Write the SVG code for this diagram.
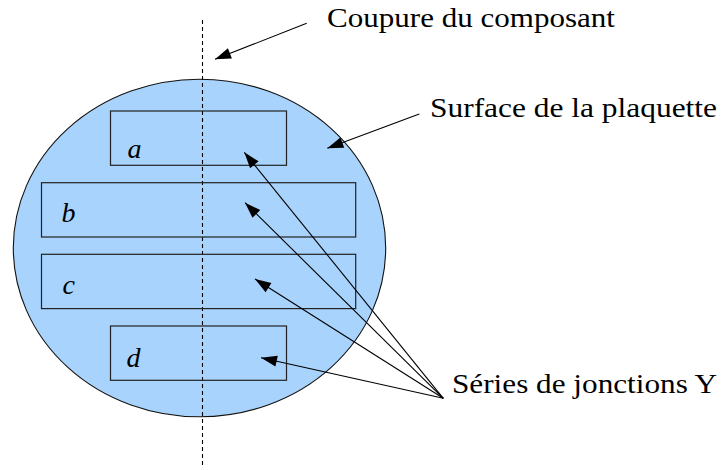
<svg xmlns="http://www.w3.org/2000/svg" width="723" height="470" viewBox="0 0 723 470">
<style>
.lbl{font-family:"Liberation Serif","DejaVu Serif",serif;font-size:27px;fill:#000}
.var{font-family:"Liberation Serif","DejaVu Serif",serif;font-style:italic;font-size:28px;fill:#000}
.box{fill:none;stroke:#222;stroke-width:1.2}
.con{stroke:#000;stroke-width:1.1;fill:none;marker-end:url(#ah)}
</style>
<defs>
<marker id="ah" markerUnits="userSpaceOnUse" viewBox="-17 -7 18 14" refX="0" refY="0" markerWidth="18" markerHeight="14" orient="auto">
<path d="M0,0 L-16,-5.5 L-16,5.5 z" fill="#000"/>
</marker>
</defs>
<rect width="723" height="470" fill="#fff"/>
<g id="plaquette">
<ellipse cx="199.5" cy="248" rx="186.2" ry="168.8" fill="#a7d3fd" stroke="#111" stroke-width="1.1"/>
</g>
<g id="coupe">
<line x1="202.5" y1="20" x2="202.5" y2="467" stroke="#000" stroke-width="1.1" stroke-dasharray="4,3"/>
</g>
<g id="node-a">
<rect class="box" x="110.5" y="111" width="176" height="54.3"/>
<text class="var" x="127.5" y="157.5">a</text>
</g>
<g id="node-b">
<rect class="box" x="41.5" y="182.7" width="314.2" height="54.3"/>
<text class="var" x="61.5" y="221.7">b</text>
</g>
<g id="node-c">
<rect class="box" x="41.5" y="254.3" width="314.2" height="54.3"/>
<text class="var" x="62.5" y="294.3">c</text>
</g>
<g id="node-d">
<rect class="box" x="110.5" y="326" width="176" height="54.3"/>
<text class="var" x="126.5" y="366.5">d</text>
</g>
<g id="labels">
<text class="lbl" x="327" y="27" textLength="288" lengthAdjust="spacingAndGlyphs">Coupure du composant</text>
<text class="lbl" x="430" y="116.5" textLength="287" lengthAdjust="spacingAndGlyphs">Surface de la plaquette</text>
<text class="lbl" x="452" y="393" textLength="265" lengthAdjust="spacingAndGlyphs">Séries de jonctions Y</text>
</g>
<g id="connectors">
<line class="con" x1="306.7" y1="23.3" x2="215" y2="59.3"/>
<line class="con" x1="419.3" y1="114" x2="327.3" y2="148.3"/>
<line class="con" x1="443.3" y1="398.3" x2="244.3" y2="152.3"/>
<line class="con" x1="443.3" y1="398.3" x2="245" y2="202.7"/>
<line class="con" x1="443.3" y1="398.3" x2="255" y2="279"/>
<line class="con" x1="443.3" y1="398.3" x2="261" y2="357.7"/>
</g>
</svg>
